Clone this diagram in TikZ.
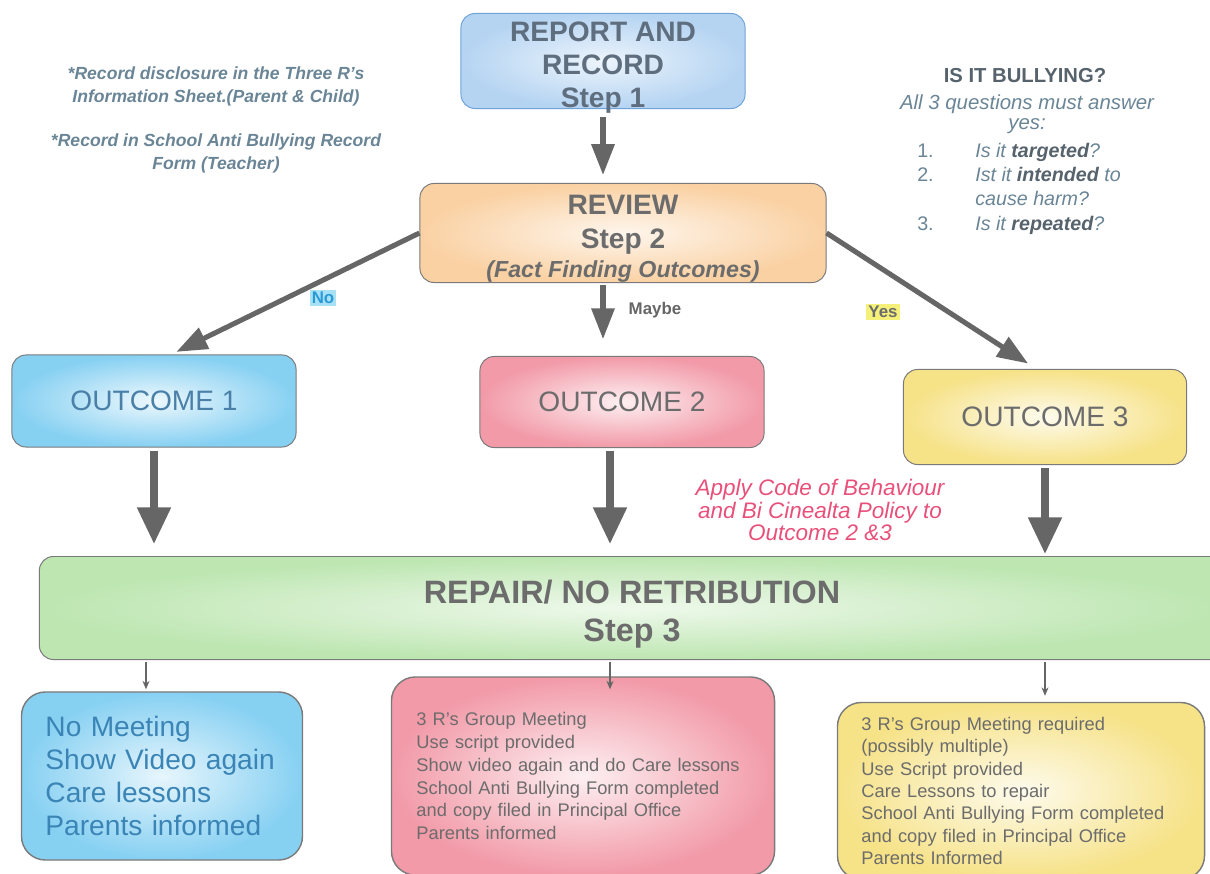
\documentclass[tikz,border=0pt]{standalone}
\usepackage{fontspec}
\setmainfont{Liberation Sans}
\usetikzlibrary{arrows.meta,positioning,calc}
\definecolor{onefill}{HTML}{B5D4F2}
\definecolor{oneline}{HTML}{6FA3D8}
\definecolor{revfill}{HTML}{FAD1A3}
\definecolor{bluefill}{HTML}{86D0F2}
\definecolor{pinkfill}{HTML}{F29AA8}
\definecolor{yellowfill}{HTML}{F6E287}
\definecolor{greenfill}{HTML}{BDE6B1}
\definecolor{boxline}{HTML}{7A7A7A}
\definecolor{arrowgray}{HTML}{666666}
\definecolor{headtext}{HTML}{5E6E7E}
\definecolor{greytext}{HTML}{6C6C6C}
\definecolor{bluetext}{HTML}{4A80A8}
\definecolor{lowblue}{HTML}{3A84B6}
\definecolor{notetext}{HTML}{6A8596}
\definecolor{qdark}{HTML}{56626C}
\definecolor{pinktext}{HTML}{E8507A}
\definecolor{nobg}{HTML}{A8E0F6}
\definecolor{notext}{HTML}{2A9AD6}
\definecolor{yesbg}{HTML}{F4F07A}

\begin{document}
\begin{tikzpicture}[x=0.025cm,y=-0.025cm,
  box/.style={draw=boxline,line width=0.7pt,rounded corners=10pt,align=center,inner sep=0pt},
  lowbox/.style={draw=boxline,line width=1pt,rounded corners=17pt,align=left,inner xsep=0.6cm,inner ysep=0pt},
  bigarrow/.style={arrowgray,line width=3.6pt,-{Triangle[width=16pt,length=22pt]}},
  fatarrow/.style={arrowgray,line width=5pt,-{Triangle[width=23pt,length=26pt]}},
  thinarrow/.style={arrowgray,line width=0.8pt,-{Stealth[length=6pt,width=5pt]}},
  answer/.style={font=\bfseries\fontsize{12}{12}\selectfont,inner sep=1.5pt}]
  \useasboundingbox (0,0) rectangle (1210,874);

  % Step 1
  \node[box,draw=oneline,inner color=onefill!25,outer color=onefill,minimum width=7.1cm,minimum height=2.375cm,inner ysep=-5pt,
    text=headtext,font=\bfseries\fontsize{20}{23.5}\selectfont] (step1) at (603,61) {\rule{0pt}{23pt}REPORT AND\\RECORD\\Step 1};

  % Step 2
  \node[box,inner color=revfill!20,outer color=revfill,minimum width=10.15cm,minimum height=2.45cm,
    text=greytext,font=\bfseries\fontsize{20}{24}\selectfont] (review) at (623,233)
    {\rule{0pt}{22pt}REVIEW\\Step 2\\[-3pt]{\fontsize{16.5}{19}\selectfont\itshape(Fact Finding Outcomes)}};

  % notes
  \node[text=notetext,font=\bfseries\itshape\fontsize{12.5}{16.3}\selectfont,align=center] (note1) at (216,86)
    {*Record disclosure in the Three R's\\Information Sheet.(Parent \& Child)};
  \node[text=notetext,font=\bfseries\itshape\fontsize{12.5}{16.3}\selectfont,align=center] (note2) at (216,153)
    {*Record in School Anti Bullying Record\\Form (Teacher)};

  % is it bullying
  \node[text=qdark,font=\bfseries\fontsize{14.4}{16}\selectfont] (qtitle) at (1025,76) {IS IT BULLYING?};
  \node[text=notetext,font=\itshape\fontsize{14.5}{14.2}\selectfont,align=center] (qsub) at (1027,114)
    {All 3 questions must answer\\yes:};
  \node[text=notetext,font=\itshape\fontsize{14}{17.3}\selectfont,anchor=north west,inner sep=0pt] (qlist) at (917,140)
    {\begin{tabular}{@{}p{1.45cm}@{}l@{}}
      \upshape 1. & Is it {\bfseries\color{qdark}targeted}?\\
      \upshape 2. & Ist it {\bfseries\color{qdark}intended} to\\
       & cause harm?\\
      \upshape 3. & Is it {\bfseries\color{qdark}repeated}?
    \end{tabular}};

  % outcomes
  \node[box,inner color=bluefill!15,outer color=bluefill,minimum width=7.1cm,minimum height=2.3cm,
    text=bluetext,font=\fontsize{20}{24}\selectfont] (out1) at (154,401) {OUTCOME 1};
  \node[box,inner color=pinkfill!15,outer color=pinkfill,minimum width=7.1cm,minimum height=2.275cm,
    text=greytext,font=\fontsize{20}{24}\selectfont] (out2) at (622,402) {OUTCOME 2};
  \node[box,inner color=yellowfill!15,outer color=yellowfill,minimum width=7.075cm,minimum height=2.375cm,
    text=greytext,font=\fontsize{20}{24}\selectfont] (out3) at (1045,417) {OUTCOME 3};

  \node[answer,fill=nobg,text=notext] (lno) at (323,298) {No};
  \node[answer,text=arrowgray] (lmaybe) at (655,310) {Maybe};
  \node[answer,fill=yesbg,text=greytext] (lyes) at (883,312) {Yes};

  \node[text=pinktext,font=\itshape\fontsize{16}{15.8}\selectfont,align=center] (policy) at (820,510)
    {Apply Code of Behaviour\\and Bi Cinealta Policy to\\Outcome 2 \&3};

  % Step 3
  \node[box,inner color=greenfill!25,outer color=greenfill,minimum width=29.625cm,minimum height=2.575cm,
    text=greytext,font=\bfseries\fontsize{23}{27}\selectfont] (repair) at (632,608) {\rule{0pt}{25pt}REPAIR/ NO RETRIBUTION\\Step 3};

  % actions
  \node[lowbox,inner color=bluefill!20,outer color=bluefill,minimum width=7.025cm,minimum height=4.2cm,text width=5.825cm,
    text=lowblue,font=\fontsize{20}{23.5}\selectfont] (low1) at (162,776)
    {No Meeting\\Show Video again\\Care lessons\\Parents informed};
  \node[lowbox,inner color=pinkfill!15,outer color=pinkfill,minimum width=9.575cm,minimum height=4.95cm,text width=8.325cm,
    text=greytext,font=\fontsize{13}{16.3}\selectfont] (low2) at (583,776)
    {3 R's Group Meeting\\Use script provided\\Show video again and do Care lessons\\School Anti Bullying Form completed\\and copy filed in Principal Office\\Parents informed};
  \node[lowbox,inner color=yellowfill!15,outer color=yellowfill,minimum width=9.175cm,minimum height=4.425cm,text width=7.975cm,
    text=greytext,font=\fontsize{13}{15.9}\selectfont] (low3) at (1021,791)
    {3 R's Group Meeting required\\(possibly multiple)\\Use Script provided\\Care Lessons to repair\\School Anti Bullying Form completed\\and copy filed in Principal Office\\Parents Informed};

  % arrows
  \draw[bigarrow,shorten <=0.2cm,shorten >=0.2cm] (step1.south) -- (step1.south |- review.north);
  \draw[bigarrow,shorten >=0.15cm] (review.west) -- (out1.70);
  \draw[bigarrow,shorten <=0.05cm,shorten >=0.42cm] (review.south -| step1.south) -- (out2.north -| step1.south);
  \draw[bigarrow,shorten >=0.25cm] (review.east) -- (out3.100);

  \draw[fatarrow,shorten <=0.08cm,shorten >=0.3cm] (out1.south) -- (out1.south |- repair.north);
  \draw[fatarrow,shorten <=0.08cm,shorten >=0.3cm] ($(out2.south)+(-12,0)$) -- ($(out2.south |- repair.north)+(-12,0)$);
  \draw[fatarrow,shorten <=0.08cm,shorten >=0.05cm] (out3.south) -- (out3.south |- repair.north);

  \draw[thinarrow] ($(repair.south -| out1.south)+(-8,2)$) -- ($(low1.north -| out1.south)+(-8,-2)$);
  \draw[thinarrow] ($(repair.south -| out2.south)+(-12,2)$) -- ($(low2.north -| out2.south)+(-12,13)$);
  \draw[thinarrow] ($(repair.south -| out3.south)+(0,2)$) -- ($(low3.north -| out3.south)+(0,-6)$);
\end{tikzpicture}
\end{document}
